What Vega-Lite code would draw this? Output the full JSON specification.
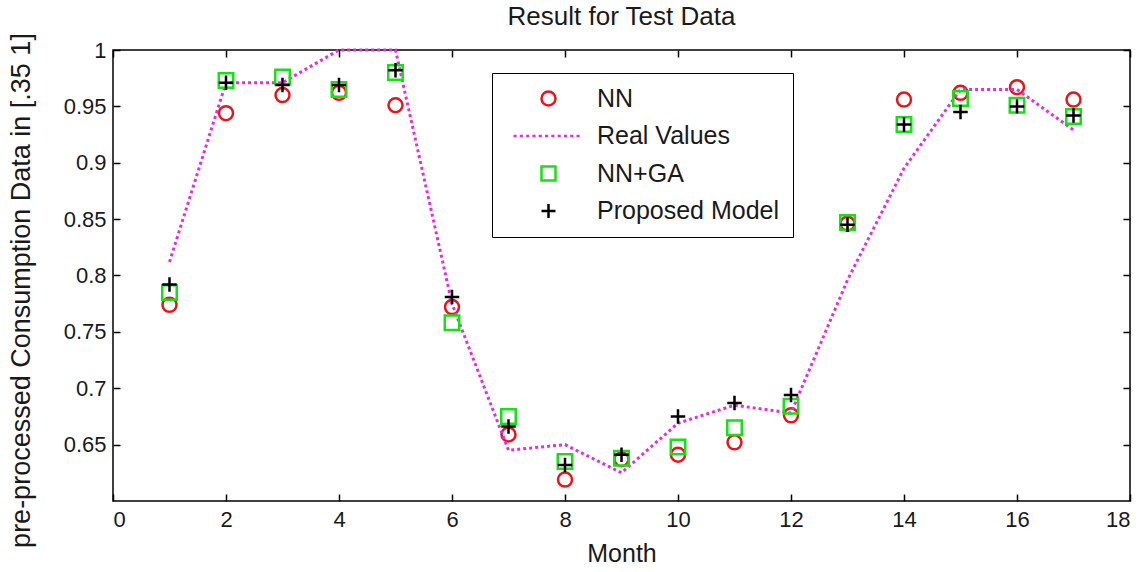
{
  "$schema": "https://vega.github.io/schema/vega-lite/v6.json",
  "autosize": {"type": "none"},
  "width": 1017,
  "height": 451,
  "padding": {"left": 113, "top": 50, "right": 16, "bottom": 71},
  "title": {"text": "Result for Test Data", "fontSize": 26, "font": "Liberation Sans", "fontWeight": "normal", "color": "#1a1a1a", "offset": 3, "anchor": "middle"},
  "config": {
    "view": {"stroke": "#000000", "strokeWidth": 1.5},
    "font": "Liberation Sans",
    "axis": {"labelFont": "Liberation Sans", "titleFont": "Liberation Sans", "labelColor": "#1a1a1a", "titleColor": "#1a1a1a", "tickColor": "#000000", "grid": false, "domain": false, "titleFontWeight": "normal"}
  },
  "data": {"values": [
    {"month": 1, "series": "NN", "value": 0.774},
    {"month": 2, "series": "NN", "value": 0.944},
    {"month": 3, "series": "NN", "value": 0.960},
    {"month": 4, "series": "NN", "value": 0.962},
    {"month": 5, "series": "NN", "value": 0.951},
    {"month": 6, "series": "NN", "value": 0.772},
    {"month": 7, "series": "NN", "value": 0.659},
    {"month": 8, "series": "NN", "value": 0.619},
    {"month": 9, "series": "NN", "value": 0.637},
    {"month": 10, "series": "NN", "value": 0.641},
    {"month": 11, "series": "NN", "value": 0.652},
    {"month": 12, "series": "NN", "value": 0.676},
    {"month": 13, "series": "NN", "value": 0.846},
    {"month": 14, "series": "NN", "value": 0.956},
    {"month": 15, "series": "NN", "value": 0.962},
    {"month": 16, "series": "NN", "value": 0.967},
    {"month": 17, "series": "NN", "value": 0.956},
    {"month": 1, "series": "Real Values", "value": 0.812},
    {"month": 2, "series": "Real Values", "value": 0.971},
    {"month": 3, "series": "Real Values", "value": 0.971},
    {"month": 4, "series": "Real Values", "value": 1.0},
    {"month": 5, "series": "Real Values", "value": 1.0},
    {"month": 6, "series": "Real Values", "value": 0.775},
    {"month": 7, "series": "Real Values", "value": 0.645},
    {"month": 8, "series": "Real Values", "value": 0.650},
    {"month": 9, "series": "Real Values", "value": 0.625},
    {"month": 10, "series": "Real Values", "value": 0.669},
    {"month": 11, "series": "Real Values", "value": 0.685},
    {"month": 12, "series": "Real Values", "value": 0.678},
    {"month": 13, "series": "Real Values", "value": 0.796},
    {"month": 14, "series": "Real Values", "value": 0.895},
    {"month": 15, "series": "Real Values", "value": 0.965},
    {"month": 16, "series": "Real Values", "value": 0.965},
    {"month": 17, "series": "Real Values", "value": 0.929},
    {"month": 1, "series": "NN+GA", "value": 0.785},
    {"month": 2, "series": "NN+GA", "value": 0.973},
    {"month": 3, "series": "NN+GA", "value": 0.976},
    {"month": 4, "series": "NN+GA", "value": 0.965},
    {"month": 5, "series": "NN+GA", "value": 0.980},
    {"month": 6, "series": "NN+GA", "value": 0.758},
    {"month": 7, "series": "NN+GA", "value": 0.675},
    {"month": 8, "series": "NN+GA", "value": 0.635},
    {"month": 9, "series": "NN+GA", "value": 0.638},
    {"month": 10, "series": "NN+GA", "value": 0.648},
    {"month": 11, "series": "NN+GA", "value": 0.665},
    {"month": 12, "series": "NN+GA", "value": 0.684},
    {"month": 13, "series": "NN+GA", "value": 0.847},
    {"month": 14, "series": "NN+GA", "value": 0.934},
    {"month": 15, "series": "NN+GA", "value": 0.957},
    {"month": 16, "series": "NN+GA", "value": 0.951},
    {"month": 17, "series": "NN+GA", "value": 0.941},
    {"month": 1, "series": "Proposed Model", "value": 0.792},
    {"month": 2, "series": "Proposed Model", "value": 0.971},
    {"month": 3, "series": "Proposed Model", "value": 0.969},
    {"month": 4, "series": "Proposed Model", "value": 0.969},
    {"month": 5, "series": "Proposed Model", "value": 0.982},
    {"month": 6, "series": "Proposed Model", "value": 0.781},
    {"month": 7, "series": "Proposed Model", "value": 0.666},
    {"month": 8, "series": "Proposed Model", "value": 0.632},
    {"month": 9, "series": "Proposed Model", "value": 0.641},
    {"month": 10, "series": "Proposed Model", "value": 0.675},
    {"month": 11, "series": "Proposed Model", "value": 0.687},
    {"month": 12, "series": "Proposed Model", "value": 0.694},
    {"month": 13, "series": "Proposed Model", "value": 0.845},
    {"month": 14, "series": "Proposed Model", "value": 0.934},
    {"month": 15, "series": "Proposed Model", "value": 0.945},
    {"month": 16, "series": "Proposed Model", "value": 0.950},
    {"month": 17, "series": "Proposed Model", "value": 0.942}
  ]},
  "resolve": {"scale": {"x": "shared", "y": "shared"}, "axis": {"x": "independent", "y": "independent"}},
  "layer": [
    {
      "transform": [{"filter": "datum.series === 'NN'"}],
      "mark": {"type": "point", "filled": false, "strokeWidth": 2.5, "size": 196, "opacity": 1},
      "encoding": {
        "x": {"field": "month", "type": "quantitative", "scale": {"domain": [0, 18], "nice": false},
              "axis": {"orient": "bottom", "values": [0,2,4,6,8,10,12,14,16,18], "title": "Month", "labelFontSize": 22, "titleFontSize": 25, "tickSize": -7, "tickWidth": 1.5, "labelPadding": 15, "titlePadding": 11}},
        "y": {"field": "value", "type": "quantitative", "scale": {"domain": [0.6, 1], "nice": false, "zero": false},
              "axis": {"orient": "left", "values": [0.65,0.7,0.75,0.8,0.85,0.9,0.95,1], "format": ".2~f", "title": "pre-processed Consumption Data in [.35 1]", "labelFontSize": 22, "titleFontSize": 27, "tickSize": -7, "tickWidth": 1.5, "labelPadding": 14, "titlePadding": 28, "titleY": 240}},
        "color": {"field": "series", "type": "nominal",
                  "scale": {"domain": ["NN", "Real Values", "NN+GA", "Proposed Model"], "range": ["#e8141c", "#e22ee2", "#18e018", "#000000"]},
                  "legend": {"orient": "none", "legendX": 379, "legendY": 23, "title": null, "direction": "vertical",
                             "labelFontSize": 25, "labelFont": "Liberation Sans", "labelColor": "#1a1a1a", "labelLimit": 400,
                             "strokeColor": "#000000", "fillColor": "#ffffff", "padding": 13,
                             "symbolSize": 196, "symbolOffset": 31, "labelOffset": 36, "rowPadding": 11.5, "symbolStrokeWidth": 2.5,
                             "encode": {"symbols": {
                               "strokeWidth": {"value": 2.5},
                               "fill": {"value": "transparent"}
                             }}}},
        "shape": {"field": "series", "type": "nominal",
                  "scale": {"domain": ["NN", "Real Values", "NN+GA", "Proposed Model"], "range": ["circle", "M-5,0L-4.55,0M-4.1,0L-3.65,0M-3.2,0L-2.75,0M-2.3,0L-1.85,0M-1.4,0L-0.95,0M-0.5,0L-0.05,0M0.4,0L0.85,0M1.3,0L1.75,0M2.2,0L2.65,0M3.1,0L3.55,0M4,0L4.45,0", "square", "M-1,0L1,0M0,-1L0,1"]}}
      }
    },
    {
      "transform": [{"filter": "datum.series === 'Real Values'"}],
      "mark": {"type": "line", "strokeDash": [3, 3], "strokeWidth": 3},
      "encoding": {
        "x": {"field": "month", "type": "quantitative", "axis": {"orient": "top", "values": [0,2,4,6,8,10,12,14,16,18], "labels": false, "title": null, "tickSize": -7, "tickWidth": 1.5}},
        "y": {"field": "value", "type": "quantitative", "axis": {"orient": "right", "values": [0.65,0.7,0.75,0.8,0.85,0.9,0.95,1], "labels": false, "title": null, "tickSize": -7, "tickWidth": 1.5}},
        "color": {"field": "series", "type": "nominal"}
      }
    },
    {
      "transform": [{"filter": "datum.series === 'NN+GA' || datum.series === 'Proposed Model'"}],
      "mark": {"type": "point", "filled": false, "strokeWidth": 2.5, "size": 210, "opacity": 1},
      "encoding": {
        "x": {"field": "month", "type": "quantitative", "axis": null},
        "y": {"field": "value", "type": "quantitative", "axis": null},
        "color": {"field": "series", "type": "nominal"},
        "shape": {"field": "series", "type": "nominal"}
      }
    }
  ]
}
